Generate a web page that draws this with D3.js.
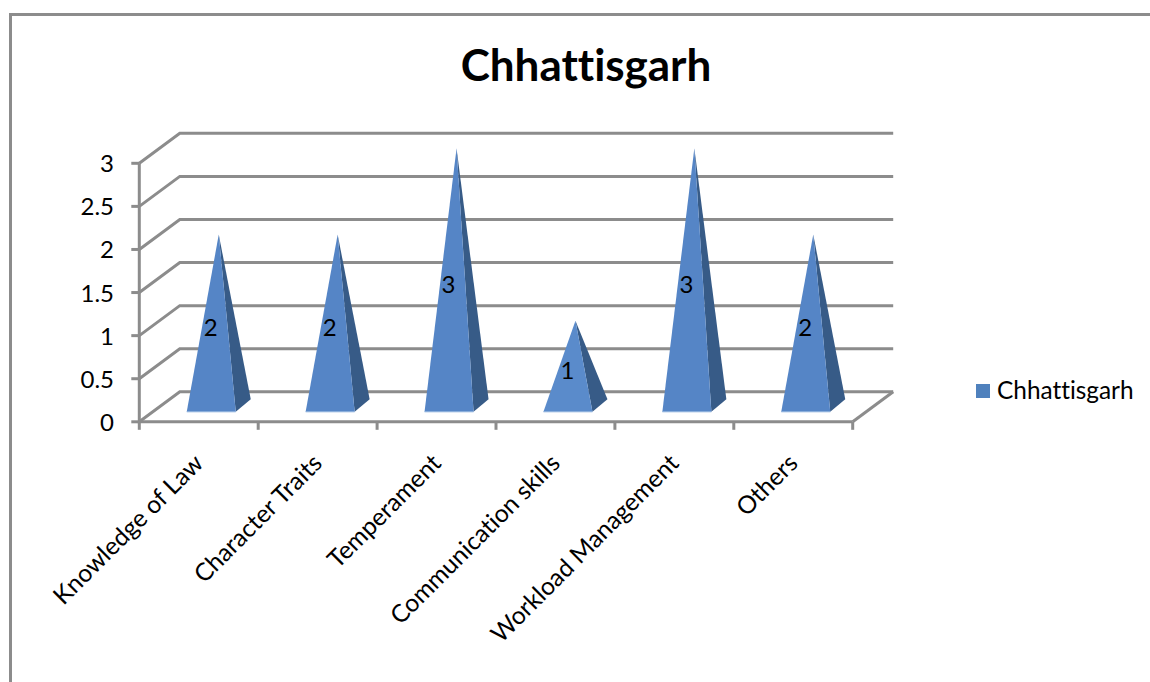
<!DOCTYPE html>
<html><head><meta charset="utf-8">
<script src="https://cdn.jsdelivr.net/npm/d3@7"></script>
<style>html,body{margin:0;background:#fff}svg{display:block}text{font-family:Lato,sans-serif;fill:#000;font-variant-ligatures:none;font-feature-settings:"liga" 0}</style>
</head><body><div id="c"></div>
<script>
const categories=["Knowledge of Law","Character Traits","Temperament","Communication skills","Workload Management","Others"];
const values=[2,2,3,1,3,2];
const yTicks=[0,0.5,1,1.5,2,2.5,3];
const seriesName="Chhattisgarh";
const W=1150,H=682;
const gridCol="#8c8c8c";
const depth={x:40.5,y:-30};
const svg=d3.select("#c").append("svg").attr("width",W).attr("height",H);
const x=d3.scaleBand().domain(categories).range([139.3,852.7]);
const y=d3.scaleLinear().domain([0,3]).range([421.8,163.3]);
// outer frame
svg.append("path").attr("d",`M${W},14.5H10.5V${H}`).attr("fill","none").attr("stroke",gridCol).attr("stroke-width",3);
// back wall + side wall gridlines
const g=svg.append("g").attr("fill","none").attr("stroke",gridCol).attr("stroke-width",3);
yTicks.forEach(t=>{
  g.append("path").attr("d",`M${x.range()[0]},${y(t)}l${depth.x},${depth.y}H${x.range()[1]+depth.x}`);
});
g.append("path").attr("d",`M${x.range()[1]},${y(0)}l${depth.x},${depth.y}`);
// axes
const ax=svg.append("g").attr("fill","none").attr("stroke",gridCol).attr("stroke-width",3);
ax.append("path").attr("d",`M${x.range()[0]},${y(3)}V${y(0)}H${x.range()[1]}`);
yTicks.forEach(t=>ax.append("path").attr("d",`M${x.range()[0]-8},${y(t)}H${x.range()[0]}`));
d3.range(7).forEach(i=>{const px=x.range()[0]+i*x.step();ax.append("path").attr("d",`M${px},${y(0)}v8`)});
svg.selectAll("text.yt").data(yTicks).join("text").attr("class","yt")
  .attr("x",114).attr("y",d=>y(d)+9).attr("text-anchor","end").attr("font-size",24).text(d=>d);
// pyramids
const halfW=24.5;
categories.forEach((c,i)=>{
  const v=values[i];
  const cx=x(c)+x.bandwidth()/2;
  const lx=cx-halfW+12.5, rx=cx+halfW+12.5, fy=y(0)-10;
  const bx=rx+15, by=fy-12.5;
  const ax_=(lx+bx)/2, ay=y(v)+depth.y/2;
  svg.append("path").attr("d",`M${rx},${fy}L${bx},${by}L${ax_},${ay}Z`).attr("fill","#375b87");
  svg.append("path").attr("d",`M${lx},${fy}L${rx},${fy}L${ax_},${ay}Z`).attr("fill",v===1?"#5a8bcb":"#5585c6");
  svg.append("path").attr("d",`M${lx},${fy}H${rx}`).attr("stroke","#8fb2de").attr("stroke-width",1);
  svg.append("text").attr("x",cx+12).attr("y",y(v/2)+0.5).attr("text-anchor","middle").attr("font-size",24).text(v);
  const tx=cx+6, ty=y(0)+43;
  svg.append("text").attr("transform",`translate(${tx},${ty}) rotate(-45)`).attr("text-anchor","end").attr("font-size",24.6).text(c);
});
// title
svg.append("text").attr("x",586).attr("y",81).attr("text-anchor","middle").attr("font-size",44).attr("font-weight",700).text(seriesName);
// legend
svg.append("rect").attr("x",976).attr("y",384).attr("width",14).attr("height",14).attr("fill","#4f81bd");
svg.append("text").attr("x",997).attr("y",399).attr("font-size",24.4).text(seriesName);
</script></body></html>
